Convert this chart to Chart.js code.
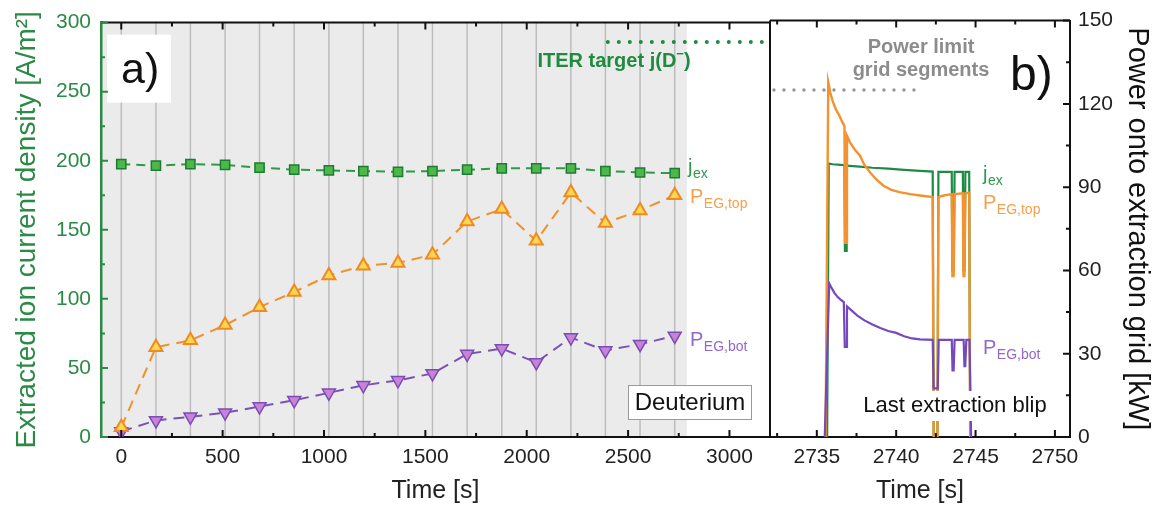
<!DOCTYPE html>
<html><head><meta charset="utf-8">
<script src="https://cdn.jsdelivr.net/npm/chart.js@4.4.1/dist/chart.umd.min.js"></script>
<style>
html,body{margin:0;padding:0;background:#fff;}
#wrap{position:relative;width:1157px;height:506px;overflow:hidden;}
canvas{position:absolute;left:0;top:0;}
</style></head><body>
<div id="wrap"><canvas id="ca" width="1157" height="506"></canvas><canvas id="cb" width="1157" height="506"></canvas></div>
<script>
// ---------- Panel a) data ----------
const timeA = [0, 171, 341, 512, 682, 853, 1024, 1194, 1365, 1535, 1706, 1877, 2047, 2218, 2388, 2559, 2730];
const jexA  = [197.5, 196.5, 197.5, 197, 195, 193.5, 193, 192.5, 192, 192.5, 193.5, 194.5, 194.5, 194.5, 192.5, 191.5, 191];
const pTopA = [3.5, 32.5, 35, 40.5, 47, 52.5, 58.5, 62, 63, 66, 78, 82.5, 71, 88.5, 77.5, 82, 87.5];
const pBotA = [2, 6, 7.3, 8.8, 11, 13.3, 16, 18.7, 20.5, 23, 30, 32, 27, 36, 31.3, 33.6, 36.6];
const iterTarget = [286, 286];
const iterSpan = [2400, 3165];
const shadeEnd = 2790;
const xTicksA = [0, 500, 1000, 1500, 2000, 2500, 3000];
const xMinorA = [250, 750, 1250, 1750, 2250, 2750];
const yTicksA = [0, 50, 100, 150, 200, 250, 300];
const yMinorA = [25, 75, 125, 175, 225, 275];

// ---------- Panel b) data ----------
const tTopB = [2735.55, 2735.72, 2735.85, 2736.0, 2736.2, 2736.4, 2736.6, 2736.74, 2736.78, 2736.86, 2736.9, 2737.1, 2737.4, 2737.7, 2738.0, 2738.4, 2738.8, 2739.2, 2739.7, 2740.2, 2740.9, 2741.5, 2742.3, 2742.36, 2742.6, 2742.66, 2743.0, 2743.5, 2743.54, 2743.62, 2743.68, 2744.2, 2744.24, 2744.3, 2744.36, 2744.6, 2744.66];
const pTopB = [0, 127.8, 124, 121, 118, 116, 113.5, 112, 70, 70, 108.5, 106, 103.5, 101.5, 98, 95, 92.5, 90.5, 89, 88.2, 87.5, 87, 86.4, 0, 0, 86.5, 87, 87.5, 58, 58, 87.5, 87.8, 58, 58, 87.8, 88, 0];
const tJexB = [2735.65, 2735.75, 2736.0, 2736.5, 2736.74, 2736.77, 2736.85, 2736.88, 2737.5, 2738.5, 2739.5, 2740.5, 2741.5, 2742.3, 2742.36, 2742.6, 2742.66, 2743.5, 2743.54, 2743.62, 2743.68, 2744.2, 2744.24, 2744.3, 2744.36, 2744.6, 2744.66];
const jexB  = [0, 197, 196.5, 196, 195.8, 134, 134, 195.5, 195, 194, 193.3, 192.5, 191.8, 191.2, 0, 0, 191, 191, 120, 120, 191, 191, 120, 120, 191, 191, 0];
const tBotB = [2735.5, 2735.78, 2735.9, 2736.1, 2736.3, 2736.5, 2736.7, 2736.76, 2736.84, 2736.9, 2737.2, 2737.6, 2738.0, 2738.5, 2739.0, 2739.5, 2740.0, 2740.5, 2741.0, 2741.5, 2742.3, 2742.36, 2742.62, 2742.68, 2743.5, 2743.55, 2743.62, 2743.68, 2744.25, 2744.3, 2744.35, 2744.42, 2744.62, 2744.72];
const pBotB = [0, 55.3, 54, 52, 50.5, 49.5, 48.6, 32.5, 32.5, 47, 45.5, 43.5, 42, 40.5, 39.3, 38.2, 37.5, 36.3, 35.5, 35.2, 35, 17.5, 17.5, 35, 35, 24, 24, 35, 35, 25.5, 25.5, 35, 35, 0];
const powerLimit = [125, 125];
const limitSpan = [2732.3, 2741.6];
const xTicksB = [2735, 2740, 2745, 2750];
const xMinorB = [2732.5, 2737.5, 2742.5, 2747.5];
const yTicksB = [0, 30, 60, 90, 120, 150];
const yMinorB = [15, 45, 75, 105, 135];

// ---------- helpers ----------
const FONT = '"Liberation Sans", Arial, Helvetica, sans-serif';
Chart.defaults.font.family = FONT;
const GREEN = '#2b8a45';
const pts = (xs, ys) => xs.map((x, i) => ({x: x, y: ys[i]}));
const plain = v => String(v);

function drawTicks(ctx, area, scale, vals, len, sides, color) {
  ctx.save(); ctx.strokeStyle = color; ctx.lineWidth = 2; ctx.beginPath();
  vals.forEach(v => {
    const p = scale.getPixelForValue(v);
    sides.forEach(s => {
      if (s === 'bottom') { ctx.moveTo(p, area.bottom); ctx.lineTo(p, area.bottom - len); }
      if (s === 'top') { ctx.moveTo(p, area.top); ctx.lineTo(p, area.top + len); }
      if (s === 'left') { ctx.moveTo(area.left, p); ctx.lineTo(area.left + len, p); }
      if (s === 'right') { ctx.moveTo(area.right, p); ctx.lineTo(area.right - len, p); }
    });
  });
  ctx.stroke(); ctx.restore();
}
function subLabel(ctx, x, y, main, sub, color, size) {
  ctx.save(); ctx.fillStyle = color; ctx.textBaseline = 'alphabetic'; ctx.textAlign = 'left';
  ctx.font = size + 'px ' + FONT; ctx.fillText(main, x, y);
  const w = ctx.measureText(main).width;
  ctx.font = Math.round(size * 0.68) + 'px ' + FONT; ctx.fillText(sub, x + w + 0.5, y + 5);
  ctx.restore();
}
function hline(ctx, x1, x2, y, color, w) {
  ctx.save(); ctx.strokeStyle = color; ctx.lineWidth = w; ctx.beginPath(); ctx.moveTo(x1, y); ctx.lineTo(x2, y); ctx.stroke(); ctx.restore();
}
function vline(ctx, x, y1, y2, color, w) {
  ctx.save(); ctx.strokeStyle = color; ctx.lineWidth = w; ctx.beginPath(); ctx.moveTo(x, y1); ctx.lineTo(x, y2); ctx.stroke(); ctx.restore();
}

// ---------- Panel a) ----------
const panelA = {
  id: 'panelA',
  beforeDraw(chart) {
    const {ctx, chartArea: a, scales: {x}} = chart;
    ctx.save();
    ctx.fillStyle = '#ebebeb';
    const xe = x.getPixelForValue(shadeEnd);
    ctx.fillRect(a.left, a.top, xe - a.left, a.bottom - a.top);
    ctx.strokeStyle = '#bdbdbd'; ctx.lineWidth = 1.5; ctx.beginPath();
    timeA.forEach(t => { const p = x.getPixelForValue(t); ctx.moveTo(p, a.top); ctx.lineTo(p, a.bottom); });
    ctx.stroke();
    ctx.fillStyle = '#fff'; ctx.fillRect(a.left + 6, a.top + 12, 64, 68);
    ctx.restore();
  },
  afterDraw(chart) {
    const {ctx, chartArea: a, scales: {x, y}} = chart;
    hline(ctx, a.left, a.right, a.top, '#111', 2);
    vline(ctx, a.right, a.top, a.bottom, '#111', 2);
    drawTicks(ctx, a, x, xTicksA, 7, ['bottom', 'top'], '#111');
    drawTicks(ctx, a, x, xMinorA, 4, ['bottom', 'top'], '#111');
    drawTicks(ctx, a, y, yTicksA, 7, ['left'], GREEN);
    drawTicks(ctx, a, y, yMinorA, 4, ['left'], GREEN);
    ctx.save();
    ctx.fillStyle = '#111'; ctx.font = '43px ' + FONT; ctx.textAlign = 'left'; ctx.textBaseline = 'alphabetic';
    ctx.fillText('a)', a.left + 20, 83);
    ctx.fillStyle = '#1f8a40'; ctx.font = 'bold 20px ' + FONT;
    const t1 = 'ITER target j(D';
    const w1 = ctx.measureText(t1).width;
    ctx.font = 'bold 13px ' + FONT; const wm = ctx.measureText('\u2212').width;
    ctx.font = 'bold 20px ' + FONT; const w2 = ctx.measureText(')').width;
    let sx = 614 - (w1 + wm + w2) / 2;
    ctx.fillText(t1, sx, 67);
    ctx.font = 'bold 13px ' + FONT; ctx.fillText('\u2212', sx + w1, 58);
    ctx.font = 'bold 20px ' + FONT; ctx.fillText(')', sx + w1 + wm, 67);
    ctx.fillStyle = '#fff'; ctx.fillRect(628, 385, 124, 35);
    ctx.strokeStyle = '#9a9a9a'; ctx.lineWidth = 1; ctx.strokeRect(628.5, 385.5, 123, 34);
    ctx.fillStyle = '#111'; ctx.font = '24px ' + FONT; ctx.textAlign = 'center'; ctx.textBaseline = 'middle';
    ctx.fillText('Deuterium', 690, 403);
    ctx.restore();
    subLabel(ctx, 688, 173, 'j', 'ex', '#2e9a4a', 20);
    subLabel(ctx, 690, 203, 'P', 'EG,top', '#f5a04c', 20);
    subLabel(ctx, 690, 346, 'P', 'EG,bot', '#9466cc', 20);
  }
};

new Chart(document.getElementById('ca'), {
  type: 'line',
  data: {datasets: [
    {label: 'jex', data: pts(timeA, jexA), yAxisID: 'y', borderColor: '#2f9a45', borderWidth: 2, borderDash: [9, 6],
     pointStyle: 'rect', pointRadius: 6.5, pointBackgroundColor: '#4cb848', pointBorderColor: '#1e7a35', pointBorderWidth: 1.5, order: 1},
    {label: 'PEG,top', data: pts(timeA, pTopA), yAxisID: 'yP', borderColor: '#f0922b', borderWidth: 2, borderDash: [11, 7],
     pointStyle: 'triangle', pointRadius: 7.5, pointBackgroundColor: '#ffd64f', pointBorderColor: '#ef8a22', pointBorderWidth: 2, order: 2},
    {label: 'PEG,bot', data: pts(timeA, pBotA), yAxisID: 'yP', borderColor: '#7a52b8', borderWidth: 2, borderDash: [11, 7],
     pointStyle: 'triangle', pointRotation: 180, pointRadius: 7.5, pointBackgroundColor: '#c882d6', pointBorderColor: '#7b4cb6', pointBorderWidth: 1.5, order: 3},
    {label: 'ITER', data: pts(iterSpan, iterTarget), yAxisID: 'y', borderColor: '#1f8a40', borderWidth: 4, borderDash: [0, 11],
     borderCapStyle: 'round', pointRadius: 0, order: 4}
  ]},
  options: {
    responsive: false, animation: false, events: [],
    layout: {padding: {left: 0, top: 20, right: 387, bottom: 0}},
    plugins: {legend: {display: false}, tooltip: {enabled: false}},
    scales: {
      x: {type: 'linear', min: -100, max: 3200,
          afterBuildTicks: s => { s.ticks = xTicksA.map(v => ({value: v})); },
          afterFit: s => { s.height = 69; },
          ticks: {color: '#222', font: {size: 21}, padding: 8, maxRotation: 0, callback: plain},
          grid: {display: false, drawTicks: false},
          border: {display: true, color: '#111', width: 2},
          title: {display: true, text: 'Time [s]', color: '#222', font: {size: 25}, padding: {top: 0, bottom: 0}}},
      y: {type: 'linear', position: 'left', min: 0, max: 300,
          afterBuildTicks: s => { s.ticks = yTicksA.map(v => ({value: v})); },
          afterFit: s => { s.width = 101; },
          ticks: {color: GREEN, font: {size: 21}, padding: 10, callback: plain},
          grid: {display: false, drawTicks: false},
          border: {display: true, color: GREEN, width: 2.5},
          title: {display: true, text: 'Extracted ion current density [A/m\u00b2]', color: GREEN, font: {size: 28}, padding: {top: 10, bottom: 0}}},
      yP: {type: 'linear', display: false, min: 0, max: 150}
    }
  },
  plugins: [panelA]
});

// ---------- Panel b) ----------
const panelB = {
  id: 'panelB',
  afterDraw(chart) {
    const {ctx, chartArea: a, scales: {x, y}} = chart;
    hline(ctx, a.left, a.right, a.top, '#111', 2);
    vline(ctx, a.left, a.top, a.bottom, '#111', 2);
    drawTicks(ctx, a, x, xTicksB, 7, ['bottom', 'top'], '#111');
    drawTicks(ctx, a, x, xMinorB, 4, ['bottom', 'top'], '#111');
    drawTicks(ctx, a, y, yTicksB, 7, ['right'], '#111');
    drawTicks(ctx, a, y, yMinorB, 4, ['right'], '#111');
    ctx.save();
    ctx.fillStyle = '#fff'; ctx.fillRect(852, 391, 204, 30);
    ctx.fillStyle = '#111'; ctx.font = '22px ' + FONT; ctx.textAlign = 'center'; ctx.textBaseline = 'alphabetic';
    ctx.fillText('Last extraction blip', 955, 412);
    ctx.fillStyle = '#8c8c8c'; ctx.font = 'bold 20px ' + FONT;
    ctx.fillText('Power limit', 921, 53);
    ctx.fillText('grid segments', 921, 76);
    ctx.fillStyle = '#111'; ctx.font = '48px ' + FONT; ctx.textAlign = 'left';
    ctx.fillText('b)', 1010, 90);
    ctx.restore();
    subLabel(ctx, 983, 180, 'j', 'ex', '#2e9a4a', 20);
    subLabel(ctx, 983, 209, 'P', 'EG,top', '#f5a04c', 20);
    subLabel(ctx, 983, 354, 'P', 'EG,bot', '#9466cc', 20);
  }
};

new Chart(document.getElementById('cb'), {
  type: 'line',
  data: {datasets: [
    {label: 'PEG,bot', data: pts(tBotB, pBotB), yAxisID: 'y', borderColor: '#7648bd', borderWidth: 2.2, pointRadius: 0, order: 1},
    {label: 'PEG,top', data: pts(tTopB, pTopB), yAxisID: 'y', borderColor: '#f3922e', borderWidth: 2.4, pointRadius: 0, order: 2},
    {label: 'jex', data: pts(tJexB, jexB), yAxisID: 'yJ', borderColor: '#1f8a45', borderWidth: 2.2, pointRadius: 0, order: 3},
    {label: 'limit', data: pts(limitSpan, powerLimit), yAxisID: 'y', borderColor: '#959595', borderWidth: 3.4, borderDash: [0, 10],
     borderCapStyle: 'round', pointRadius: 0, order: 4}
  ]},
  options: {
    responsive: false, animation: false, events: [],
    layout: {padding: {left: 770, top: 20, right: 0, bottom: 0}},
    plugins: {legend: {display: false}, tooltip: {enabled: false}},
    scales: {
      x: {type: 'linear', min: 2732.05, max: 2750.95,
          afterBuildTicks: s => { s.ticks = xTicksB.map(v => ({value: v})); },
          afterFit: s => { s.height = 69; },
          ticks: {color: '#222', font: {size: 21}, padding: 8, maxRotation: 0, callback: plain},
          grid: {display: false, drawTicks: false},
          border: {display: true, color: '#111', width: 2},
          title: {display: true, text: 'Time [s]', color: '#222', font: {size: 25}, padding: {top: 0, bottom: 0}}},
      y: {type: 'linear', position: 'right', min: 0, max: 150,
          afterBuildTicks: s => { s.ticks = yTicksB.map(v => ({value: v})); },
          afterFit: s => { s.width = 87; },
          ticks: {color: '#222', font: {size: 21}, padding: 8, callback: plain},
          grid: {display: false, drawTicks: false},
          border: {display: true, color: '#111', width: 2},
          title: {display: true, text: 'Power onto extraction grid [kW]', color: '#111', font: {size: 29}, padding: {top: 3, bottom: 0}}},
      yJ: {type: 'linear', display: false, min: 0, max: 300}
    }
  },
  plugins: [panelB]
});
</script>
</body></html>
